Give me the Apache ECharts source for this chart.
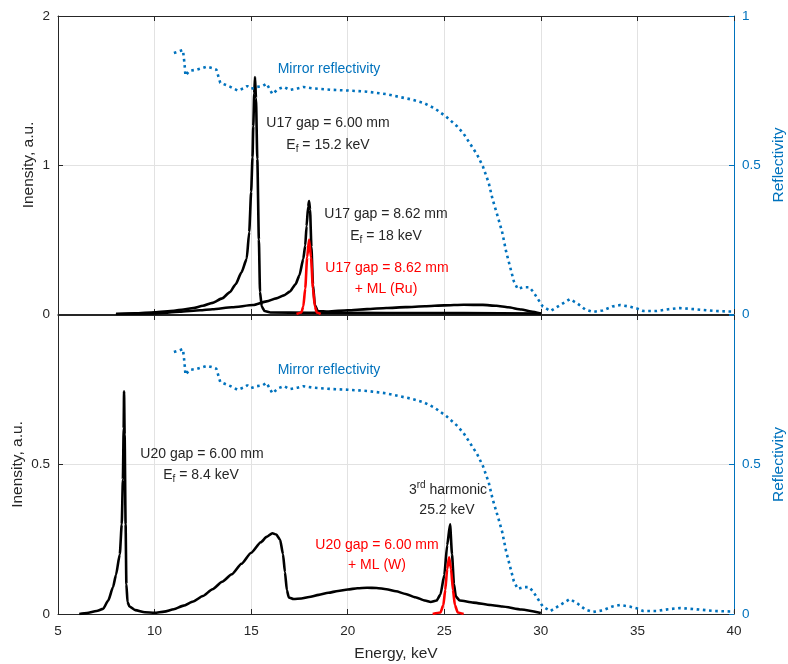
<!DOCTYPE html>
<html><head><meta charset="utf-8">
<script src="https://cdn.jsdelivr.net/npm/echarts@6/dist/echarts.min.js"></script>
<style>html,body{margin:0;padding:0;background:#fff}#c{width:788px;height:664px}</style>
</head><body><div id="c"></div>
<script>
// ---------- DATA ----------
const xTicks = [5, 10, 15, 20, 25, 30, 35, 40];
// Top panel: U17 undulator
const u17gap600 = [[8,0],[9,0.004],[10,0.012],[11,0.022],[11.5,0.03],[12,0.04],[12.5,0.055],[13,0.075],[13.5,0.105],[13.9,0.147],[14.2,0.2],[14.5,0.28],[14.77,0.37],[14.9,0.55],[15.0,0.82],[15.07,1.05],[15.11,1.26],[15.16,1.48],[15.2,1.59],[15.25,1.45],[15.32,1.04],[15.4,0.5],[15.46,0.147],[15.55,0.05],[15.7,0.02],[16,0.01],[18,0.008],[22,0.007],[26,0.006],[30,0.003]];
const u17gap862 = [[8,0],[10,0.004],[11.3,0.015],[12.35,0.025],[13,0.032],[14,0.045],[15.1,0.06],[15.8,0.085],[16.3,0.105],[16.7,0.125],[17.0,0.15],[17.3,0.2],[17.5,0.26],[17.7,0.37],[17.8,0.46],[17.87,0.59],[17.95,0.72],[18.0,0.758],[18.05,0.7],[18.12,0.45],[18.2,0.2],[18.3,0.06],[18.45,0.02],[19,0.017],[20,0.025],[21,0.033],[22,0.04],[23,0.046],[24,0.052],[25,0.058],[26,0.062],[27,0.061],[27.7,0.055],[28.3,0.045],[29,0.03],[29.5,0.017],[30,0.003]];
const u17ML = [[17.35,0],[17.6,0.01],[17.7,0.05],[17.8,0.17],[17.9,0.38],[18.0,0.5],[18.1,0.38],[18.2,0.17],[18.3,0.05],[18.4,0.01],[18.6,0]];
// Bottom panel: U20 undulator
const u20gap600 = [[6.1,0],[6.5,0.003],[7,0.01],[7.33,0.017],[7.6,0.045],[7.85,0.09],[8.0,0.13],[8.2,0.2],[8.3,0.3],[8.36,0.45],[8.4,0.62],[8.42,0.745],[8.45,0.6],[8.5,0.3],[8.54,0.1],[8.6,0.04],[8.7,0.025],[9,0.013],[9.5,0.006],[10,0.004],[10.5,0.008],[11,0.016],[11.5,0.028],[12,0.042],[12.5,0.06],[13,0.083],[13.5,0.108],[14,0.133],[14.5,0.168],[15,0.205],[15.5,0.24],[15.8,0.258],[16.1,0.27],[16.3,0.266],[16.5,0.248],[16.65,0.2],[16.75,0.14],[16.85,0.08],[16.95,0.055],[17.2,0.05],[17.6,0.052],[18,0.057],[18.5,0.064],[19,0.071],[19.5,0.077],[20,0.082],[20.5,0.086],[21,0.088],[21.5,0.087],[22,0.083],[22.5,0.076],[23,0.067],[23.5,0.056],[24,0.045],[24.3,0.04],[24.6,0.045],[24.8,0.065],[25.0,0.13],[25.15,0.23],[25.3,0.3],[25.4,0.2],[25.5,0.1],[25.6,0.058],[25.8,0.045],[26.5,0.038],[27.4,0.03],[28,0.025],[29,0.015],[30,0.003]];
const u20ML = [[24.4,0],[24.8,0.005],[24.95,0.03],[25.05,0.08],[25.15,0.15],[25.25,0.19],[25.35,0.15],[25.45,0.08],[25.55,0.03],[25.7,0.005],[26.0,0]];
// Mirror reflectivity (both panels)
const reflectivity = [[11.0,0.876],[11.2,0.88],[11.47,0.886],[11.55,0.84],[11.6,0.8],[11.8,0.816],[12.2,0.82],[12.7,0.83],[13.0,0.825],[13.2,0.82],[13.4,0.776],[13.9,0.763],[14.3,0.75],[14.6,0.757],[14.8,0.765],[15.0,0.756],[15.3,0.762],[15.6,0.765],[15.8,0.773],[16.1,0.738],[16.4,0.755],[16.7,0.762],[17.0,0.752],[17.4,0.757],[17.7,0.762],[18.2,0.757],[19.25,0.752],[20,0.75],[21,0.746],[22,0.738],[22.7,0.728],[23.3,0.72],[23.9,0.709],[24.5,0.69],[25.1,0.662],[25.66,0.63],[26.0,0.605],[26.3,0.575],[26.7,0.535],[27.0,0.495],[27.3,0.44],[27.5,0.385],[27.8,0.32],[28.0,0.274],[28.2,0.21],[28.4,0.16],[28.6,0.11],[28.8,0.084],[29.1,0.09],[29.4,0.09],[29.6,0.075],[29.85,0.05],[30.1,0.025],[30.5,0.01],[31.0,0.03],[31.5,0.05],[31.9,0.035],[32.3,0.015],[32.7,0.007],[33.2,0.012],[33.7,0.025],[34.1,0.03],[34.6,0.025],[35.0,0.018],[35.3,0.01],[36,0.01],[36.6,0.016],[37.2,0.02],[38,0.016],[39,0.01],[40,0.008]];

// ---------- STYLE ----------
const FONT = 'Liberation Sans, Arial, Helvetica, sans-serif';
const AX = '#262626', BLUE = '#0072BD', RED = '#FF0000', GRIDC = '#e2e2e2';
const chart = echarts.init(document.getElementById('c'));

function xAx(gi, pos, showLabel, name){
  return {
    type:'value', gridIndex:gi, position:pos, min:5, max:40, interval:5,
    axisLine:{show:true, onZero:false, lineStyle:{color:AX, width:1}},
    axisTick:{show:true, inside:true, length:5, lineStyle:{color:AX}},
    axisLabel:{show:showLabel, color:AX, fontSize:13.5, fontFamily:FONT, margin:10},
    splitLine:{show:pos==='bottom', lineStyle:{color:GRIDC}},
    name: name || '', nameLocation:'middle', nameGap:32, nameMoveOverlap:false,
    nameTextStyle:{color:AX, fontSize:15.5, fontFamily:FONT}
  };
}
function yAx(gi, pos, max, interval, color, name, hideMax, gap){
  return {
    type:'value', gridIndex:gi, position:pos, min:0, max:max, interval:interval,
    axisLine:{show:true, onZero:false, lineStyle:{color:color, width:1}},
    axisTick:{show:true, inside:true, length:5, lineStyle:{color:color}},
    axisLabel:{color:color, fontSize:13.5, fontFamily:FONT, margin:8,
      formatter: v => (hideMax && Math.abs(v-max)<1e-9) ? '' : String(v)},
    splitLine:{show:pos==='left', lineStyle:{color:GRIDC}},
    name:name, nameLocation:'middle', nameGap: gap, nameMoveOverlap:false,
    nameTextStyle:{color:color, fontSize:15.5, fontFamily:FONT}
  };
}

const txt = (x,y,text,color,rich) => ({
  type:'text', x:x, y:y, z:100,
  style:{text:text, fill:color, font:'14px '+FONT, align:'center', verticalAlign:'middle',
    textAlign:'center', textVerticalAlign:'middle', rich:rich}
});
const richE = (c) => ({
  a:{fontSize:14, fontFamily:FONT, color:c, lineHeight:18},
  s:{fontSize:10, fontFamily:FONT, color:c, lineHeight:18, padding:[9,0,0,0]}
});
const richSup = {
  a:{fontSize:14, fontFamily:FONT, color:AX, lineHeight:18},
  s:{fontSize:10, fontFamily:FONT, color:AX, lineHeight:18, padding:[0,0,9,0]}
};
const LW = 2.6;
const blk = (xi, yi, data, color, z) => ({
  type:'line', xAxisIndex:xi, yAxisIndex:yi, data:data, symbol:'none',
  smooth:0.2, smoothMonotone:'x',
  lineStyle:{color:color, width:LW, join:'round'}, z:z
});
const dots = (xi, yi) => ({
  type:'line', xAxisIndex:xi, yAxisIndex:yi, data:reflectivity, symbol:'none',
  lineStyle:{color:BLUE, width:2.6, type:[2.6,3.6]}, z:5
});

const option = {
  animation:false,
  grid:[
    {left:58, top:16, width:676, height:298, containLabel:false, outerBoundsMode:'none'},
    {left:58, top:315, width:676, height:299, containLabel:false, outerBoundsMode:'none'}
  ],
  xAxis:[
    xAx(0,'bottom',false),
    xAx(0,'top',false),
    xAx(1,'bottom',true,'Energy, keV'),
    xAx(1,'top',false)
  ],
  yAxis:[
    yAx(0,'left',2,1,AX,'Inensity, a.u.',false,21),
    yAx(0,'right',1,0.5,BLUE,'Reflectivity',false,37),
    yAx(1,'left',1,0.5,AX,'Inensity, a.u.',true,32),
    yAx(1,'right',1,0.5,BLUE,'Reflectivity',true,37)
  ],
  series:[
    blk(0,0,u17gap600,'#000',3),
    blk(0,0,u17gap862,'#000',3),
    blk(0,0,u17ML,RED,4),
    dots(0,1),
    blk(2,2,u20gap600,'#000',3),
    blk(2,2,u20ML,RED,4),
    dots(2,3)
  ],
  graphic:[
    txt(329,69,'Mirror reflectivity',BLUE),
    txt(328,123,'U17 gap = 6.00 mm',AX),
    txt(328,145,'{a|E}{s|f}{a| = 15.2 keV}',AX,richE(AX)),
    txt(386,214,'U17 gap = 8.62 mm',AX),
    txt(386,236,'{a|E}{s|f}{a| = 18 keV}',AX,richE(AX)),
    txt(387,268,'U17 gap = 8.62 mm',RED),
    txt(386,289,'+ ML (Ru)',RED),
    txt(329,370,'Mirror reflectivity',BLUE),
    txt(202,454,'U20 gap = 6.00 mm',AX),
    txt(201,475,'{a|E}{s|f}{a| = 8.4 keV}',AX,richE(AX)),
    txt(448,490,'{a|3}{s|rd}{a| harmonic}',AX,richSup),
    txt(447,510,'25.2 keV',AX),
    txt(377,545,'U20 gap = 6.00 mm',RED),
    txt(377,565,'+ ML (W)',RED)
  ]
};
chart.setOption(option);
</script>
</body></html>
